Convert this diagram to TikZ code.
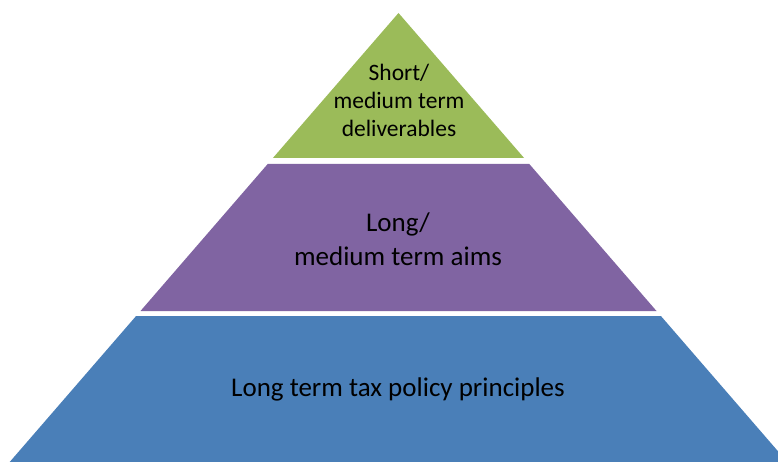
\documentclass[tikz,border=0pt]{standalone}
\usepackage{fontspec}
\setmainfont{Carlito}
\definecolor{tiergreen}{HTML}{9BBB59}
\definecolor{tierpurple}{HTML}{8064A2}
\definecolor{tierblue}{HTML}{4A7FB8}
\tikzset{
  tierlabel/.style={align=center, text=black, inner sep=0pt, anchor=base},
}
\begin{document}
\begin{tikzpicture}[x=1pt,y=-1pt]
\useasboundingbox (0,0) rectangle (778,462);
\begin{scope}
\clip (0,0) rectangle (778,462);
\fill[tiergreen] (398.5,13) -- (524.1,158) -- (272.9,158) -- cycle;
\fill[tierpurple] (267.7,164) -- (529.3,164) -- (656.5,311) -- (140.5,311) -- cycle;
\fill[tierblue] (136.1,316) -- (660.9,316) -- (787.3,462) -- (9.7,462) -- cycle;
\end{scope}
\node[tierlabel, font=\fontsize{23.5}{28}\selectfont] (top) at (399,137) {Short/\\medium term\\deliverables};
\node[tierlabel, font=\fontsize{27}{33}\selectfont] (mid) at (398,265) {Long/\\medium term aims};
\node[tierlabel, font=\fontsize{27}{33}\selectfont] (base) at (398,396) {Long term tax policy principles};
\end{tikzpicture}
\end{document}
